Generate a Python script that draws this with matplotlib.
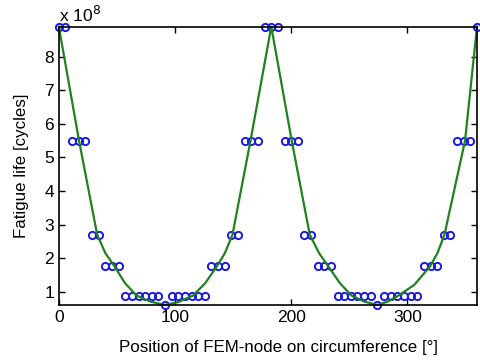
import matplotlib
matplotlib.use('Agg')
import matplotlib.pyplot as plt

plt.rcParams['font.family'] = ['Liberation Sans', 'DejaVu Sans']

# FEM node positions [deg] and fatigue life [x 1e8 cycles]
node_pos = [0.0, 5.7, 11.4, 17.1, 22.9, 28.6, 34.3, 40.0, 45.7, 51.4,
            57.1, 62.9, 68.6, 74.3, 80.0, 85.7, 91.4, 97.1, 102.9, 108.6,
            114.3, 120.0, 125.7, 131.4, 137.1, 142.9, 148.6, 154.3, 160.0, 165.7,
            171.4, 177.1, 182.9, 188.6, 194.3, 200.0, 205.7, 211.4, 217.1, 222.9,
            228.6, 234.3, 240.0, 245.7, 251.4, 257.1, 262.9, 268.6, 274.3, 280.0,
            285.7, 291.4, 297.1, 302.9, 308.6, 314.3, 320.0, 325.7, 331.4, 337.1,
            342.9, 348.6, 354.3, 360.0]
node_life = [8.9, 8.9, 5.5, 5.5, 5.5, 2.7, 2.7, 1.75, 1.75, 1.75,
             0.88, 0.88, 0.88, 0.88, 0.88, 0.88, 0.6, 0.88, 0.88, 0.88,
             0.88, 0.88, 0.88, 1.75, 1.75, 1.75, 2.7, 2.7, 5.5, 5.5,
             5.5, 8.9, 8.9, 8.9, 5.5, 5.5, 5.5, 2.7, 2.7, 1.75,
             1.75, 1.75, 0.88, 0.88, 0.88, 0.88, 0.88, 0.88, 0.6, 0.88,
             0.88, 0.88, 0.88, 0.88, 0.88, 1.75, 1.75, 1.75, 2.7, 2.7,
             5.5, 5.5, 5.5, 8.9]

# fitted curve
fit_pos = [0, 17.4, 33, 40, 48, 57, 67, 79, 91.4, 103, 115.5, 126, 136, 143, 149.5,
           165, 182.9, 200.5, 216, 224, 232, 242, 252, 263, 274.3, 283, 292.3,
           306, 319.5, 326, 332, 349.7, 360]
fit_life = [8.9, 5.5, 2.7, 2.15, 1.75, 1.25, 0.88, 0.7, 0.6, 0.69, 0.88, 1.25, 1.75, 2.15, 2.7,
            5.5, 8.9, 5.5, 2.7, 2.15, 1.75, 1.25, 0.88, 0.7, 0.6, 0.7, 0.88,
            1.2, 1.75, 2.15, 2.7, 5.5, 8.9]

fig = plt.figure(figsize=(4.81, 3.63), dpi=100)
ax = fig.add_axes([0.1223, 0.1598, 0.8694, 0.7666])

ax.plot(node_pos, node_life, 'o', mfc='none', mec='#1a1ae0', ms=5.2, mew=1.4, clip_on=False)
ax.plot(fit_pos, fit_life, '-', color='#1f821f', lw=1.6, clip_on=False)

ax.set_xlim(0, 360)
ax.set_ylim(0.6, 8.9)
ax.set_xticks([0, 100, 200, 300])
ax.set_yticks([1, 2, 3, 4, 5, 6, 7, 8])
ax.tick_params(direction='in', top=True, right=True, length=4, width=1, labelsize=12.5)
for s in ax.spines.values():
    s.set_linewidth(1.2)

ax.text(0, 1.005, 'x 10$^{8}$', transform=ax.transAxes, fontsize=12.5, va='bottom', ha='left')
ax.set_xlabel('Position of FEM-node on circumference [°]', fontsize=12.2)
ax.xaxis.set_label_coords(0.526, -0.125)
ax.set_ylabel('Fatigue life [cycles]', fontsize=12.2, labelpad=11)

fig.savefig('out.png', dpi=100)
